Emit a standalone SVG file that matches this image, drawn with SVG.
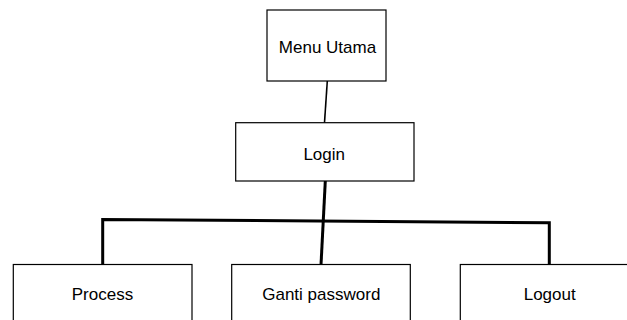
<svg xmlns="http://www.w3.org/2000/svg" width="627" height="320" viewBox="0 0 627 320">
<style>
.box{fill:#fff;stroke:#000;stroke-width:1.2}
.lbl{font-family:"Liberation Sans",Arial,sans-serif;font-size:17px;fill:#000;text-anchor:middle}
.thin{stroke:#000;stroke-width:1.6;fill:none}
.thick{stroke:#000;stroke-width:3;fill:none;stroke-linejoin:miter}
</style>
<rect width="627" height="320" fill="#fff"/>
<g id="connectors">
<line class="thin" x1="327.3" y1="81" x2="324.5" y2="122.7"/>
<line class="thick" x1="325.3" y1="181" x2="321" y2="265"/>
<polyline class="thick" points="102.7,265 102.7,219.5 549.3,222.7 549.3,265"/>
</g>
<g id="menu-utama">
<rect class="box" x="267" y="10" width="119" height="71"/>
<text class="lbl" x="327.5" y="53.3">Menu Utama</text>
</g>
<g id="login">
<rect class="box" x="235.7" y="122.7" width="178.3" height="58.3"/>
<text class="lbl" x="324.2" y="160">Login</text>
</g>
<g id="process">
<rect class="box" x="13.3" y="264.5" width="178.7" height="70"/>
<text class="lbl" x="102.5" y="300.3">Process</text>
</g>
<g id="ganti-password">
<rect class="box" x="231.7" y="264.5" width="178.6" height="70"/>
<text class="lbl" x="321.3" y="300.3">Ganti password</text>
</g>
<g id="logout">
<rect class="box" x="460.3" y="264.5" width="180" height="70"/>
<text class="lbl" x="549.7" y="300.3">Logout</text>
</g>
</svg>
